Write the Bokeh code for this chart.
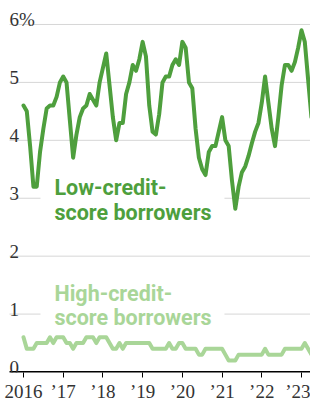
import numpy as np
from bokeh.plotting import figure
from bokeh.models import Range1d, FixedTicker
from bokeh.core.properties import value
from bokeh.embed import file_html
from bokeh.resources import INLINE

# ---- data (monthly, Jan 2016 onward), percent ----
start_year = 2016
low_credit = [
    4.6, 4.5, 3.9, 3.2, 3.2, 3.8, 4.2, 4.55, 4.6, 4.6, 4.75, 5.0,
    5.1, 5.0, 4.35, 3.7, 4.1, 4.4, 4.55, 4.6, 4.8, 4.7, 4.6, 5.0,
    5.25, 5.5, 4.95, 4.4, 4.0, 4.3, 4.3, 4.8, 5.0, 5.3, 5.2, 5.4,
    5.7, 5.45, 4.6, 4.15, 4.1, 4.45, 5.0, 5.1, 5.1, 5.3, 5.4, 5.3,
    5.7, 5.6, 5.0, 4.9, 4.2, 3.7, 3.5, 3.4, 3.8, 3.9, 3.9, 4.15,
    4.4, 4.0, 3.9, 3.3, 2.82, 3.2, 3.45, 3.55, 3.73, 3.95, 4.15, 4.3,
    4.65, 5.1, 4.65, 4.2, 3.9, 4.4, 4.95, 5.3, 5.3, 5.2, 5.35, 5.6,
    5.9, 5.7, 5.05, 4.4,
]
high_credit = [
    0.6, 0.4, 0.4, 0.4, 0.5, 0.5, 0.5, 0.5, 0.6, 0.5, 0.6, 0.6,
    0.6, 0.5, 0.5, 0.4, 0.5, 0.5, 0.5, 0.6, 0.6, 0.6, 0.5, 0.6,
    0.6, 0.6, 0.5, 0.4, 0.4, 0.5, 0.4, 0.5, 0.5, 0.5, 0.5, 0.5,
    0.5, 0.5, 0.5, 0.4, 0.4, 0.4, 0.4, 0.4, 0.5, 0.4, 0.4, 0.5,
    0.5, 0.4, 0.4, 0.4, 0.4, 0.3, 0.3, 0.4, 0.4, 0.4, 0.4, 0.4,
    0.4, 0.3, 0.2, 0.2, 0.2, 0.3, 0.3, 0.3, 0.3, 0.3, 0.3, 0.3,
    0.3, 0.4, 0.3, 0.3, 0.3, 0.3, 0.3, 0.4, 0.4, 0.4, 0.4, 0.4,
    0.4, 0.5, 0.4, 0.3,
]
year_ticks = [2016, 2017, 2018, 2019, 2020, 2021, 2022, 2023]
year_labels = ["2016", "\u201917", "\u201918", "\u201919", "\u201920", "\u201921", "\u201922", "\u201923"]
y_ticks = [0, 1, 2, 3, 4, 5, 6]
y_labels = ["0", "1", "2", "3", "4", "5", "6%"]
low_label = ["Low-credit-", "score borrowers"]
high_label = ["High-credit-", "score borrowers"]

LOW_COLOR = "#4e9f3d"
HIGH_COLOR = "#a9d698"
TICK_FONT = "Liberation Sans Narrow"

months = np.arange(len(low_credit))
x = start_year + months / 12.0

x0, x1 = 2015.4209, 2023.2267      # frame edges
gx0 = 2015.6475                    # where gridlines / labels start
p = figure(width=310, height=404, output_backend="svg", toolbar_location=None,
           x_range=Range1d(x0, x1), y_range=Range1d(-0.0086, 6.414),
           y_axis_location=None,
           min_border_left=0, min_border_right=0, min_border_top=0, min_border_bottom=32)
p.outline_line_color = None
p.background_fill_color = "white"
p.border_fill_color = "white"
p.grid.visible = False

ax = p.xaxis[0]
ax.ticker = FixedTicker(ticks=year_ticks)
ax.major_label_overrides = {t: l for t, l in zip(year_ticks, year_labels)}
ax.axis_line_color = None
ax.major_tick_line_color = "black"
ax.major_tick_line_width = 1
ax.major_tick_out = 5
ax.major_tick_in = 0
ax.minor_tick_out = 0
ax.minor_tick_in = 0
ax.major_label_standoff = 3
ax.major_label_text_font = TICK_FONT
ax.major_label_text_font_size = "19px"
ax.major_label_text_color = "#333333"

# gridlines (1..6) starting at the label column
grid_vals = y_ticks[1:]
p.segment(x0=[gx0] * len(grid_vals), x1=[x1] * len(grid_vals), y0=grid_vals, y1=grid_vals,
          line_color="#d6d6d6", line_width=1)

# white backing boxes behind the series labels (break the gridlines)
p.quad(left=[2016.428, 2016.428], right=[2021.06, 2021.06],
       bottom=[2.62, 0.82], top=[3.32, 1.45], fill_color="white", line_color=None)

p.line(x, high_credit, line_width=4, line_color=HIGH_COLOR, line_join="round", line_cap="round")
p.line(x, low_credit, line_width=4, line_color=LOW_COLOR, line_join="round", line_cap="round")

# baseline (zero axis line)
p.segment(x0=[gx0], x1=[x1], y0=[0], y1=[0], line_color="black", line_width=2)

# y tick labels sitting on top of gridlines
p.text(x=[gx0] * len(y_ticks), y=y_ticks, text=y_labels, text_align="left",
       text_baseline="alphabetic", y_offset=-5, text_font=value(TICK_FONT),
       text_font_size="19px", text_color="#333333")

# series labels
p.text(x=[2016.78, 2016.78], y=[3.178, 2.759], text=low_label, text_align="left",
       text_baseline="alphabetic", text_font=value("Roboto"), text_font_style="bold",
       text_font_size="21.5px", text_color=LOW_COLOR)
p.text(x=[2016.78, 2016.78], y=[1.355, 0.94], text=high_label, text_align="left",
       text_baseline="alphabetic", text_font=value("Roboto"), text_font_style="bold",
       text_font_size="21.5px", text_color=HIGH_COLOR)

open("out.html", "w").write(file_html(p, INLINE))
